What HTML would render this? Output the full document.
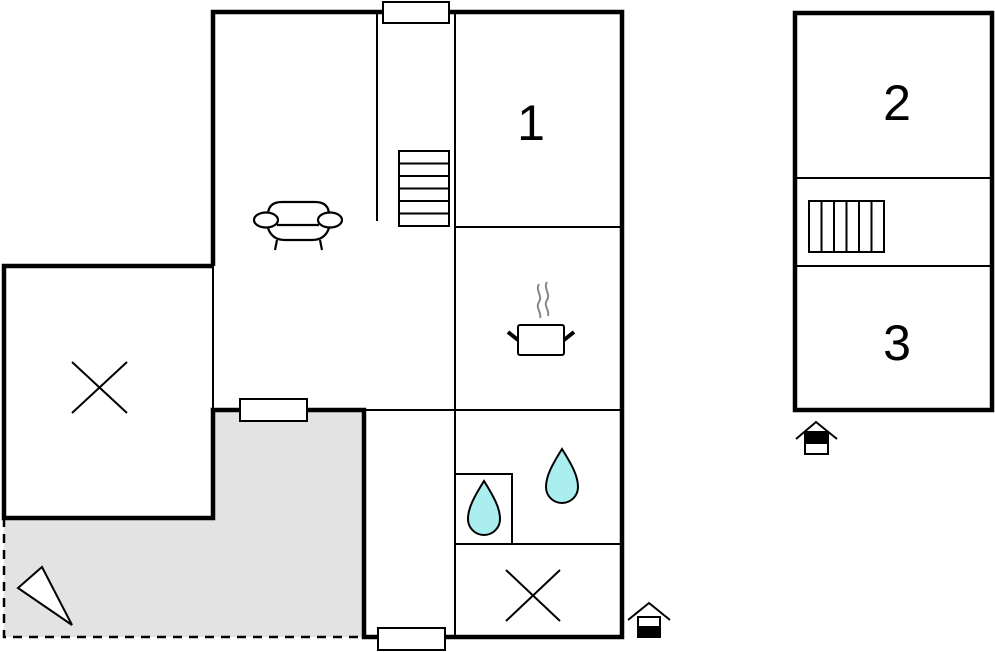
<!DOCTYPE html>
<html><head><meta charset="utf-8"><style>html,body{margin:0;padding:0;background:#fff;}svg{display:block}</style></head>
<body>
<svg width="995" height="652" viewBox="0 0 995 652" xmlns="http://www.w3.org/2000/svg" fill="none" stroke="#000">
<!-- terrace -->
<polygon points="4,518 213,518 213,410 364,410 364,637 4,637" fill="#e3e3e3" stroke="none"/>
<path d="M4,518 V637 H364" stroke-width="2.5" stroke-dasharray="9,7"/>
<!-- thin interior lines -->
<g stroke-width="2">
<line x1="455" y1="12" x2="455" y2="637"/>
<line x1="377" y1="12" x2="377" y2="221"/>
<line x1="455" y1="227" x2="622" y2="227"/>
<line x1="213" y1="410" x2="622" y2="410"/>
<line x1="455" y1="544" x2="622" y2="544"/>
<rect x="455" y="474" width="57" height="70"/>
<line x1="213" y1="266" x2="213" y2="410"/>
<line x1="795" y1="178" x2="993" y2="178"/>
<line x1="795" y1="266" x2="993" y2="266"/>
</g>
<!-- thick walls -->
<g stroke-width="4.5">
<path d="M213,266 V12 H622 V637 H364 V410 H213 V518 H4 V266 H213"/>
<rect x="795" y="13" width="197" height="397"/>
</g>
<!-- windows -->
<g fill="#fff" stroke-width="2">
<rect x="383" y="2" width="66" height="21"/>
<rect x="240" y="399" width="67" height="22"/>
<rect x="378" y="628" width="67" height="22"/>
</g>
<!-- stairs -->
<g stroke-width="2">
<rect x="399" y="151" width="50" height="75"/>
<line x1="399" y1="163.5" x2="449" y2="163.5"/><line x1="399" y1="176" x2="449" y2="176"/><line x1="399" y1="188.5" x2="449" y2="188.5"/><line x1="399" y1="201" x2="449" y2="201"/><line x1="399" y1="213.5" x2="449" y2="213.5"/>
<rect x="809" y="201" width="75" height="51"/>
<line x1="821.5" y1="201" x2="821.5" y2="252"/><line x1="834" y1="201" x2="834" y2="252"/><line x1="846.5" y1="201" x2="846.5" y2="252"/><line x1="859" y1="201" x2="859" y2="252"/><line x1="871.5" y1="201" x2="871.5" y2="252"/>
</g>
<!-- sofa -->
<g stroke-width="2.2">
<path d="M268,215 Q268,202 282,202 H315 Q329,202 329,215"/>
<ellipse cx="266" cy="220" rx="12" ry="7.5" fill="#fff"/>
<ellipse cx="330" cy="220" rx="12" ry="7.5" fill="#fff"/>
<line x1="277" y1="225" x2="319" y2="225"/>
<path d="M268,228 Q272,240 285,240 H312 Q325,240 329,228"/>
<line x1="277" y1="240" x2="275" y2="250"/><line x1="320" y1="240" x2="322" y2="250"/>
</g>
<!-- X marks -->
<g stroke-width="2">
<line x1="72" y1="362" x2="127" y2="413"/><line x1="127" y1="362" x2="72" y2="413"/>
<line x1="506" y1="570" x2="560" y2="621"/><line x1="560" y1="570" x2="506" y2="621"/>
</g>
<!-- pot -->
<path d="M539,284 C535,290 543,296 539,302 C535,308 542,312 540,318 M547,282 C543,288 551,294 547,300 C543,306 550,310 548,316" stroke="#888" stroke-width="2"/>
<rect x="518" y="325" width="46" height="30" rx="2" fill="#fff" stroke-width="2"/>
<line x1="508" y1="332" x2="518" y2="340" stroke-width="4"/>
<line x1="574" y1="332" x2="564" y2="340" stroke-width="4"/>
<!-- drops -->
<path d="M562,449 C552,465 546,476 546,487 A16,16 0 0 0 578,487 C578,476 572,465 562,449 Z" fill="#aaeef0" stroke-width="2"/>
<path d="M484,481 C474,497 468,508 468,519 A16,16 0 0 0 500,519 C500,508 494,497 484,481 Z" fill="#aaeef0" stroke-width="2"/>
<!-- compass triangle -->
<polygon points="18,588 42,567 72,625" fill="#fff" stroke-width="2"/>
<!-- entrance icons -->
<g stroke-width="2">
<polyline points="628,620 649,603 670,620"/>
<rect x="638" y="617" width="22" height="20" fill="#fff"/>
<rect x="638" y="627" width="22" height="10" fill="#000"/>
<polyline points="796,439 816,422 837,439"/>
<rect x="805" y="432" width="23" height="22" fill="#fff"/>
<rect x="805" y="432" width="23" height="11" fill="#000"/>
</g>
<g fill="#000" stroke="none" font-family="Liberation Sans, sans-serif" font-size="50" text-anchor="middle">
<text x="531" y="140">1</text>
<text x="897" y="120">2</text>
<text x="897" y="360">3</text>
</g>
</svg>
</body></html>
